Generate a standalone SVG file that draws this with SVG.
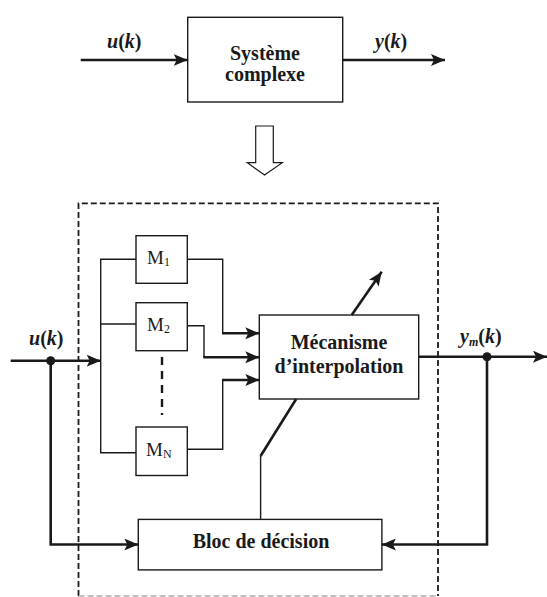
<svg xmlns="http://www.w3.org/2000/svg" width="547" height="597" viewBox="0 0 547 597">
<style>
.box{fill:#fff;stroke:#1a1a1a;stroke-width:1.4}
.thin{fill:none;stroke:#1a1a1a;stroke-width:1.4}
.thick{fill:none;stroke:#1a1a1a;stroke-width:2.6}
.lbl{font-family:"Liberation Serif",serif;font-weight:bold;font-size:20px;fill:#1a1a1a}
.m{font-family:"Liberation Serif",serif;font-size:19px;fill:#1a1a1a}
.it{font-style:italic}
</style>
<defs>
<marker id="ah" markerUnits="userSpaceOnUse" markerWidth="15" markerHeight="12" refX="14" refY="6" orient="auto">
<path d="M0,0 L14,6 L0,12 L3,6 Z" fill="#1a1a1a"/>
</marker>
</defs>

<g id="dashed-frame">
<path d="M78.5,596 L78.5,203.3 L438,203.3 L438,596" fill="none" stroke="#1a1a1a" stroke-width="1.8" stroke-dasharray="6,3"/>
<line x1="78.5" y1="596" x2="438" y2="596" stroke="#aaa" stroke-width="1.4" stroke-dasharray="6,3"/>
</g>

<g id="systeme">
<rect class="box" x="187.7" y="17.3" width="155" height="84.7"/>
<text class="lbl" x="265" y="59.5" text-anchor="middle">Système</text>
<text class="lbl" x="265" y="81" text-anchor="middle">complexe</text>
</g>

<g id="hollow-arrow">
<path d="M255.7,126 L273.3,126 L273.3,162.7 L282.3,162.7 L264.5,175 L247.3,162.7 L255.7,162.7 Z" fill="#fff" stroke="#1a1a1a" stroke-width="1.2"/>
</g>

<g id="M1">
<rect class="box" x="136" y="235.7" width="51.3" height="47.6"/>
<text class="m" x="147" y="264">M<tspan font-size="12" dy="2">1</tspan></text>
</g>
<g id="M2">
<rect class="box" x="136" y="302.7" width="51.3" height="48"/>
<text class="m" x="147" y="331">M<tspan font-size="12" dy="2">2</tspan></text>
</g>
<g id="MN">
<rect class="box" x="136" y="427" width="51.3" height="48.5"/>
<text class="m" x="146" y="456">M<tspan font-size="12" dy="2">N</tspan></text>
</g>

<g id="interpolation">
<rect class="box" x="259.3" y="315" width="159.4" height="84"/>
<text class="lbl" x="339" y="348.5" text-anchor="middle">Mécanisme</text>
<text class="lbl" x="339" y="372.5" text-anchor="middle">d’interpolation</text>
</g>

<g id="decision">
<rect class="box" x="138.3" y="519.4" width="243.6" height="50.5"/>
<text class="lbl" x="261" y="547.5" text-anchor="middle">Bloc de décision</text>
</g>

<g id="labels">
<text class="lbl" x="107" y="48"><tspan class="it">u</tspan>(<tspan class="it">k</tspan>)</text>
<text class="lbl" x="375" y="48"><tspan class="it">y</tspan>(<tspan class="it">k</tspan>)</text>
<text class="lbl" x="29" y="345"><tspan class="it">u</tspan>(<tspan class="it">k</tspan>)</text>
<text class="lbl" x="460" y="343"><tspan class="it">y</tspan><tspan class="it" font-size="12" dy="3">m</tspan><tspan dy="-3">(</tspan><tspan class="it">k</tspan>)</text>
</g>

<g id="connectors">
<line class="thick" x1="80.7" y1="60" x2="187.7" y2="60" marker-end="url(#ah)"/>
<line class="thick" x1="342.7" y1="60" x2="445" y2="60" marker-end="url(#ah)"/>
<line class="thick" x1="10.7" y1="360.7" x2="100.7" y2="360.7" marker-end="url(#ah)"/>
<polyline class="thin" points="136,259.3 100.7,259.3 100.7,452.7 136,452.7"/>
<line class="thin" x1="100.7" y1="324" x2="136" y2="324"/>
<line x1="162" y1="357" x2="162" y2="415" stroke="#1a1a1a" stroke-width="2.4" stroke-dasharray="8,6"/>
<polyline class="thin" points="187.3,259.3 222.7,259.3 222.7,333.3"/>
<line class="thick" x1="222" y1="333.3" x2="259.3" y2="333.3" marker-end="url(#ah)"/>
<polyline class="thin" points="187.3,325.7 204,325.7 204,357.3"/>
<line class="thick" x1="203.3" y1="357.3" x2="259.3" y2="357.3" marker-end="url(#ah)"/>
<polyline class="thin" points="187.3,449.3 222.7,449.3 222.7,380"/>
<line class="thick" x1="222" y1="380" x2="259.3" y2="380" marker-end="url(#ah)"/>
<line class="thick" x1="351.7" y1="315" x2="381.7" y2="271.7" marker-end="url(#ah)"/>
<line class="thick" x1="418.7" y1="356.7" x2="547" y2="356.7" marker-end="url(#ah)"/>
<polyline class="thick" points="50.7,360.7 50.7,544.5 138.3,544.5" marker-end="url(#ah)"/>
<polyline class="thick" points="487,356.7 487,544.5 381.9,544.5" marker-end="url(#ah)"/>
<polyline class="thin" points="260.6,519.4 260.6,456"/>
<line class="thick" x1="260.6" y1="456" x2="296.2" y2="399"/>
<circle cx="50.7" cy="360.7" r="4.5" fill="#1a1a1a"/>
<circle cx="487" cy="356.7" r="4.5" fill="#1a1a1a"/>
</g>
</svg>
